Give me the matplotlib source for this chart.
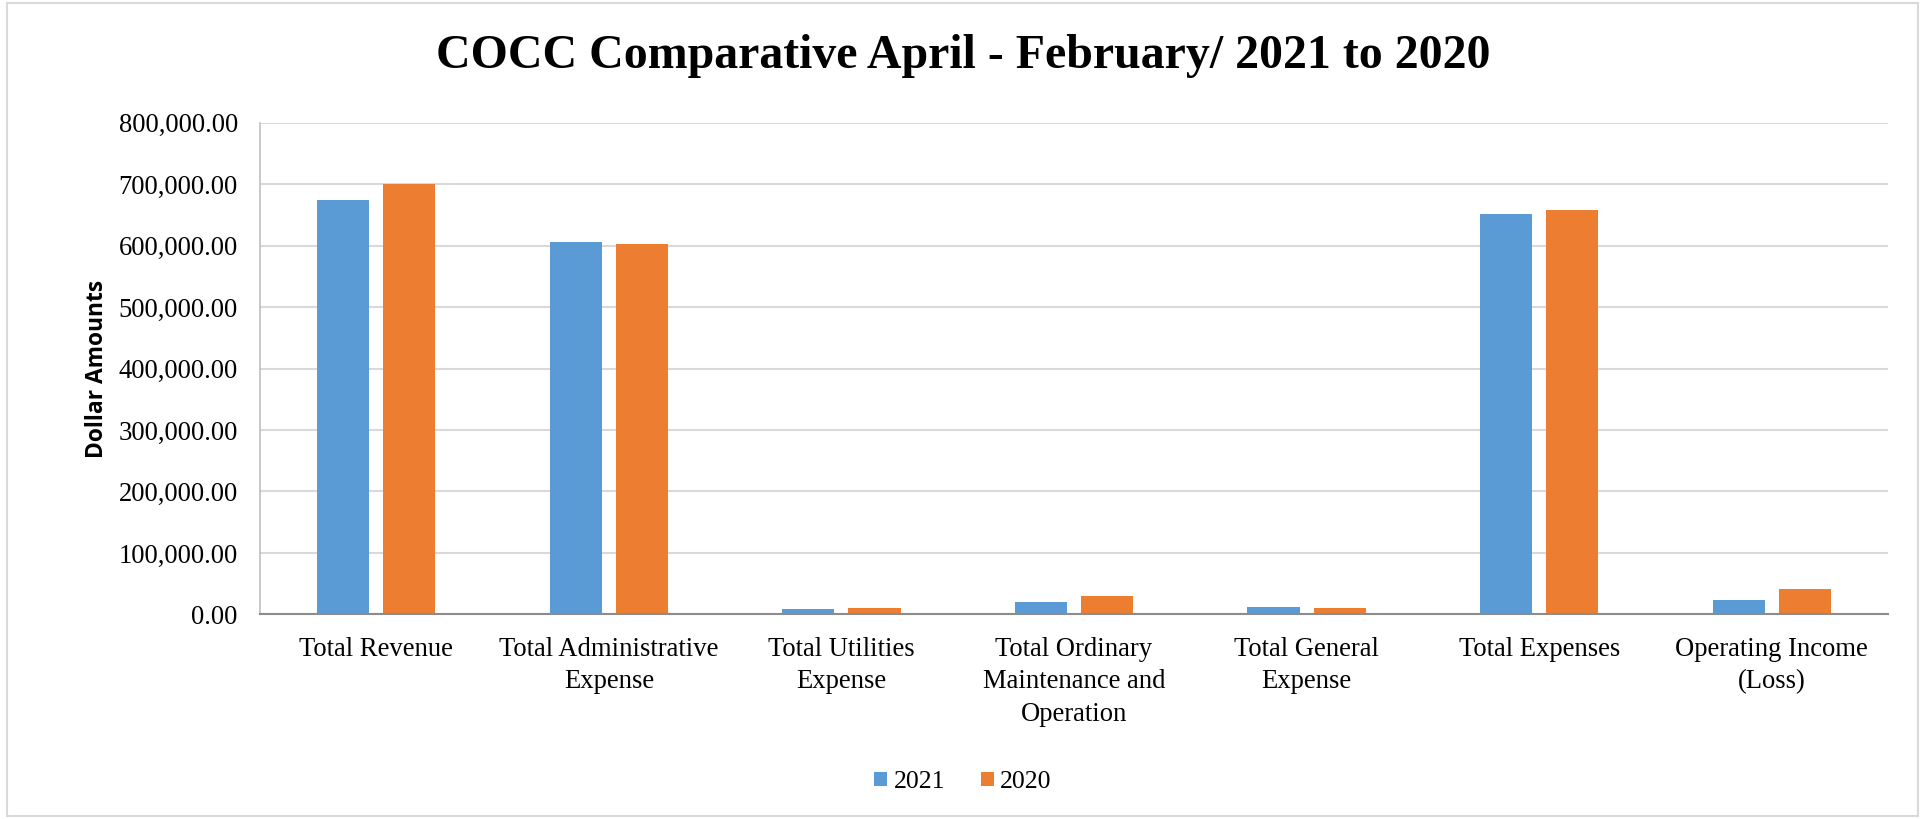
import matplotlib
matplotlib.use("Agg")
import matplotlib.pyplot as plt
from matplotlib.patches import Rectangle, Patch
from matplotlib.ticker import FuncFormatter
import numpy as np

categories = ["Total Revenue", "Total Administrative\nExpense", "Total Utilities\nExpense",
              "Total Ordinary\nMaintenance and\nOperation", "Total General\nExpense",
              "Total Expenses", "Operating Income\n(Loss)"]
values_2021 = [674800, 605400, 8100, 20000, 11400, 651200, 22800]
values_2020 = [700000, 602000, 9800, 29800, 10900, 657700, 40700]
series_names = ["2021", "2020"]
colors = ["#5B9BD5", "#ED7D31"]
title = "COCC Comparative April - February/ 2021 to 2020"
ylabel = "Dollar Amounts"
yticks = [0, 100000, 200000, 300000, 400000, 500000, 600000, 700000, 800000]

W, H = 1923, 819
fig = plt.figure(figsize=(W / 100, H / 100), dpi=100)
fig.patch.set_facecolor("white")
fig.patches.append(Rectangle((7 / W, 3 / H), (1918 - 7) / W, (816 - 3) / H,
                             transform=fig.transFigure, fill=False,
                             edgecolor="#D9D9D9", linewidth=1.5))

ax = fig.add_axes([260 / W, (819 - 614.4) / H, (1888 - 260) / W, (614.4 - 122.6) / H])
x = np.arange(len(categories))
bw = 0.224
off = 0.142
ax.bar(x - off, values_2021, width=bw, color=colors[0], label=series_names[0], zorder=3)
ax.bar(x + off, values_2020, width=bw, color=colors[1], label=series_names[1], zorder=3)

ax.set_xlim(-0.5, len(categories) - 0.5)
ax.set_ylim(0, 800000)
ax.set_yticks(yticks)
ax.yaxis.set_major_formatter(FuncFormatter(lambda v, p: f"{v:,.2f}"))
ax.grid(axis="y", color="#D9D9D9", linewidth=1.5, zorder=0)
for s in ["top", "right"]:
    ax.spines[s].set_visible(False)
ax.spines["left"].set_color("#BFBFBF")
ax.spines["left"].set_linewidth(1.2)
ax.spines["bottom"].set_color("#8C8C8C")
ax.spines["bottom"].set_linewidth(1.5)
ax.spines["bottom"].set_zorder(4)
ax.tick_params(axis="both", length=0)
ax.tick_params(axis="y", pad=16)
ax.tick_params(axis="x", pad=16)
ax.set_xticks(x)
ax.set_xticklabels(categories, fontsize=19.2, family="Liberation Serif", linespacing=1.4, va="top")
for lab in ax.get_yticklabels():
    lab.set_fontsize(19.2)
    lab.set_family("Liberation Serif")

fig.text(97 / W, (819 - 369) / H, ylabel, rotation=90, ha="center", va="center",
         fontsize=16.4, fontweight="bold", family="Open Sans")
fig.text(963 / W, (819 - 56) / H, title, ha="center", va="center",
         fontsize=34.5, fontweight="bold", family="Liberation Serif")

handles = [Patch(facecolor=colors[0], label=series_names[0]),
           Patch(facecolor=colors[1], label=series_names[1])]
fig.legend(handles=handles, loc="center", bbox_to_anchor=(963 / W, (819 - 782) / H),
           ncol=2, frameon=False, prop={"family": "Liberation Serif", "size": 18.5},
           handlelength=0.5, handleheight=0.5, handletextpad=0.25, columnspacing=1.4)

fig.savefig("out.png", dpi=100, facecolor="white")
